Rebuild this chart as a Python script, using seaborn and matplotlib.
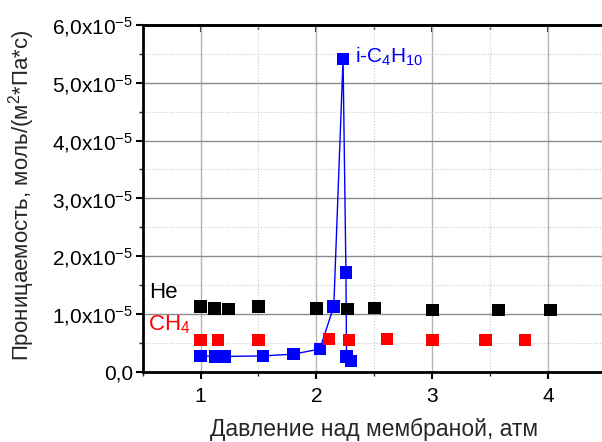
import numpy as np
import pandas as pd
import matplotlib
matplotlib.use("Agg")
import matplotlib.pyplot as plt
from matplotlib.ticker import MultipleLocator, FuncFormatter
import seaborn as sns

# ---- data (permeability in units of 1e-5) ----
he_x = [1.0, 1.12, 1.24, 1.5, 2.0, 2.27, 2.5, 3.0, 3.57, 4.02]
he_y = [1.13, 1.09, 1.08, 1.13, 1.09, 1.08, 1.10, 1.065, 1.065, 1.065]

ch4_x = [1.0, 1.15, 1.5, 2.11, 2.28, 2.61, 3.0, 3.46, 3.8]
ch4_y = [0.545, 0.545, 0.545, 0.56, 0.545, 0.56, 0.545, 0.545, 0.545]

ibu_x = [1.0, 1.13, 1.21, 1.54, 1.8, 2.03, 2.15, 2.23, 2.255, 2.26, 2.30]
ibu_y = [0.27, 0.26, 0.26, 0.27, 0.30, 0.39, 1.13, 5.41, 1.71, 0.26, 0.18]

x_ticks = [1, 2, 3, 4]
y_ticks = [0, 1, 2, 3, 4, 5, 6]

scale = 1e-5

sns.set_style("ticks")
plt.rcParams['font.family'] = ['Liberation Sans', 'DejaVu Sans']
plt.rcParams['mathtext.fontset'] = 'custom'
plt.rcParams['mathtext.rm'] = 'Liberation Sans'
plt.rcParams['mathtext.it'] = 'Liberation Sans'
plt.rcParams['mathtext.default'] = 'regular'

W, H = 602, 442
fig = plt.figure(figsize=(W / 100, H / 100), dpi=100)
ax = fig.add_axes([0.237, 0.1595, 1.0066 - 0.237, 0.9434 - 0.1595])

df_he = pd.DataFrame({"x": he_x, "y": np.array(he_y) * scale})
df_ch4 = pd.DataFrame({"x": ch4_x, "y": np.array(ch4_y) * scale})
df_ibu = pd.DataFrame({"x": ibu_x, "y": np.array(ibu_y) * scale})

sns.lineplot(data=df_ibu, x="x", y="y", sort=False, estimator=None,
             color="#0000ff", lw=1.0, ax=ax, zorder=3)
sns.scatterplot(data=df_ibu, x="x", y="y", marker="s", s=82, color="#0000ff",
                edgecolor="none", linewidth=0, ax=ax, zorder=4)
sns.scatterplot(data=df_ch4, x="x", y="y", marker="s", s=82, color="#ff0000",
                edgecolor="none", linewidth=0, ax=ax, zorder=5)
sns.scatterplot(data=df_he, x="x", y="y", marker="s", s=82, color="#000000",
                edgecolor="none", linewidth=0, ax=ax, zorder=6)

ax.set_xlabel("")
ax.set_ylabel("")
ax.set_xlim(0.5, 4.5)
ax.set_ylim(0, 6 * scale)
ax.set_xticks(x_ticks)
ax.set_yticks([v * scale for v in y_ticks])
ax.xaxis.set_minor_locator(MultipleLocator(0.5))
ax.yaxis.set_minor_locator(MultipleLocator(0.5 * scale))


def yfmt(v, pos):
    m = v / scale
    if abs(m) < 1e-9:
        return "0,0"
    return f"{m:.1f}".replace(".", ",") + r"x10$^{-5}$"


ax.yaxis.set_major_formatter(FuncFormatter(yfmt))
ax.xaxis.set_major_formatter(FuncFormatter(lambda v, p: f"{int(round(v))}"))

ax.set_axisbelow(True)
ax.xaxis.grid(True, which="major", color="#b4b4b4", lw=1.0, ls="-")
ax.yaxis.grid(True, which="major", color="#8c8c8c", lw=1.0, ls="-")
ax.xaxis.grid(True, which="minor", color="#c8c8c8", lw=0.8, ls=":")
ax.yaxis.grid(True, which="minor", color="#c8c8c8", lw=0.8, ls=":")

for s in ["left", "bottom", "top"]:
    ax.spines[s].set_visible(True)
    ax.spines[s].set_linewidth(2)
    ax.spines[s].set_color("black")
ax.spines["right"].set_visible(False)

ax.tick_params(axis="both", which="major", labelsize=15, width=1.5, length=5,
               direction="out", colors="black", pad=2)
ax.tick_params(axis="both", which="minor", width=1.0, length=3, direction="out")
ax.tick_params(axis="x", which="major", pad=6)

# top axis ticks pointing inward
top = ax.secondary_xaxis("top")
top.set_xticks(x_ticks)
top.xaxis.set_minor_locator(MultipleLocator(0.5))
top.tick_params(which="major", direction="in", length=5, width=1.5, labeltop=False)
top.tick_params(which="minor", direction="in", length=3, width=1.0)
top.set_xticklabels([])
top.spines["top"].set_linewidth(2)

# axis titles placed in figure pixels
fig.text(374 / W, 1 - 436 / H, "Давление над мембраной, атм", fontsize=16.5,
         ha="center", va="baseline")
fig.text(28.5 / W, 1 - 195 / H, "Проницаемость, моль/(м$^2$*Па*с)", fontsize=16,
         rotation=90, rotation_mode="anchor", ha="center", va="baseline")

ax.text(0.56, 1.18 * scale, "He", color="black", fontsize=16, ha="left", va="bottom")
ax.text(0.545, 0.62 * scale, "CH$_4$", color="#ff0000", fontsize=16, ha="left", va="bottom")
ax.text(2.33, 5.25 * scale, "i-C$_4$H$_{10}$", color="#0000ff", fontsize=15, ha="left", va="bottom")

fig.savefig("out.png", dpi=100)
